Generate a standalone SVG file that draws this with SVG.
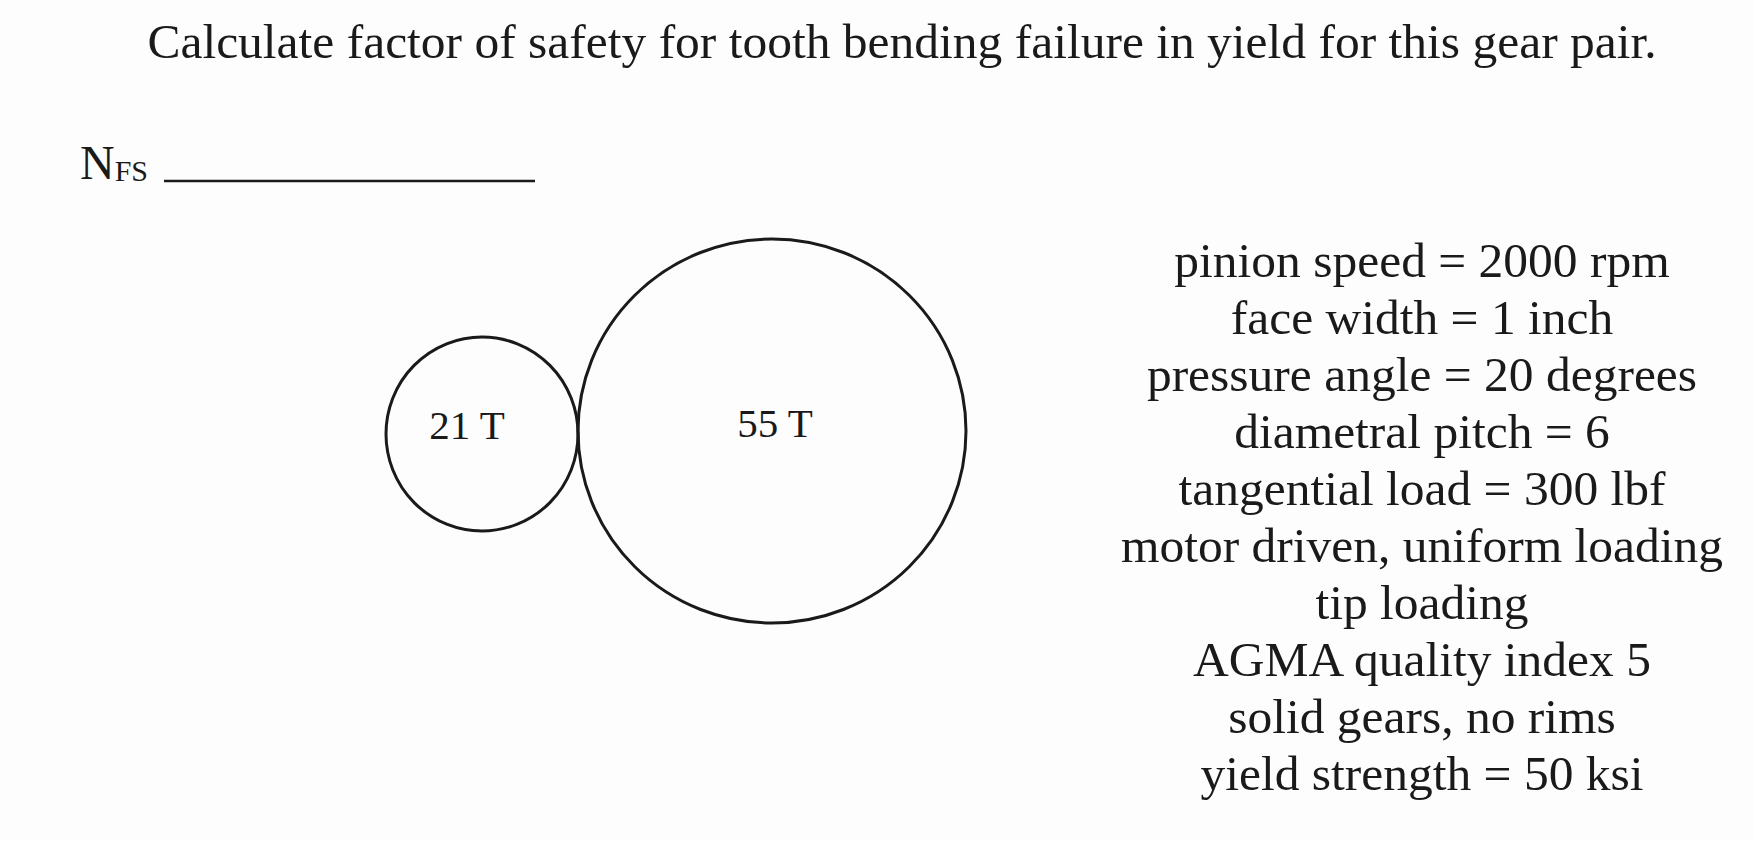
<svg xmlns="http://www.w3.org/2000/svg" width="1753" height="841" viewBox="0 0 1753 841">
<style>
.t{font-family:"Liberation Serif","Times New Roman",serif;fill:#1a1a1a}
.big{font-size:49.5px}
.lbl{font-size:41px}
.spec{font-size:49.5px;text-anchor:middle}
.gear{fill:none;stroke:#1a1a1a;stroke-width:3}
</style>
<rect width="1753" height="841" fill="#fdfdfd"/>
<g id="title">
<text class="t big" x="902" y="58" text-anchor="middle">Calculate factor of safety for tooth bending failure in yield for this gear pair.</text>
</g>
<g id="answer">
<text class="t" x="80" y="179" font-size="48">N<tspan font-size="30" dy="2">FS</tspan></text>
<line x1="164" y1="181" x2="535" y2="181" stroke="#1a1a1a" stroke-width="2.5"/>
</g>
<g id="pinion">
<ellipse class="gear" cx="482" cy="434" rx="96" ry="97"/>
<text class="t lbl" x="467" y="439" text-anchor="middle">21 T</text>
</g>
<g id="gear">
<ellipse class="gear" cx="772" cy="431" rx="194" ry="192"/>
<text class="t lbl" x="775" y="437" text-anchor="middle">55 T</text>
</g>
<g id="specs">
<text class="t spec" x="1422" y="277">pinion speed = 2000 rpm</text>
<text class="t spec" x="1422" y="334">face width = 1 inch</text>
<text class="t spec" x="1422" y="391">pressure angle = 20 degrees</text>
<text class="t spec" x="1422" y="448">diametral pitch = 6</text>
<text class="t spec" x="1422" y="505">tangential load = 300 lbf</text>
<text class="t spec" x="1422" y="562">motor driven, uniform loading</text>
<text class="t spec" x="1422" y="619">tip loading</text>
<text class="t spec" x="1422" y="676">AGMA quality index 5</text>
<text class="t spec" x="1422" y="733">solid gears, no rims</text>
<text class="t spec" x="1422" y="790">yield strength = 50 ksi</text>
</g>
</svg>
